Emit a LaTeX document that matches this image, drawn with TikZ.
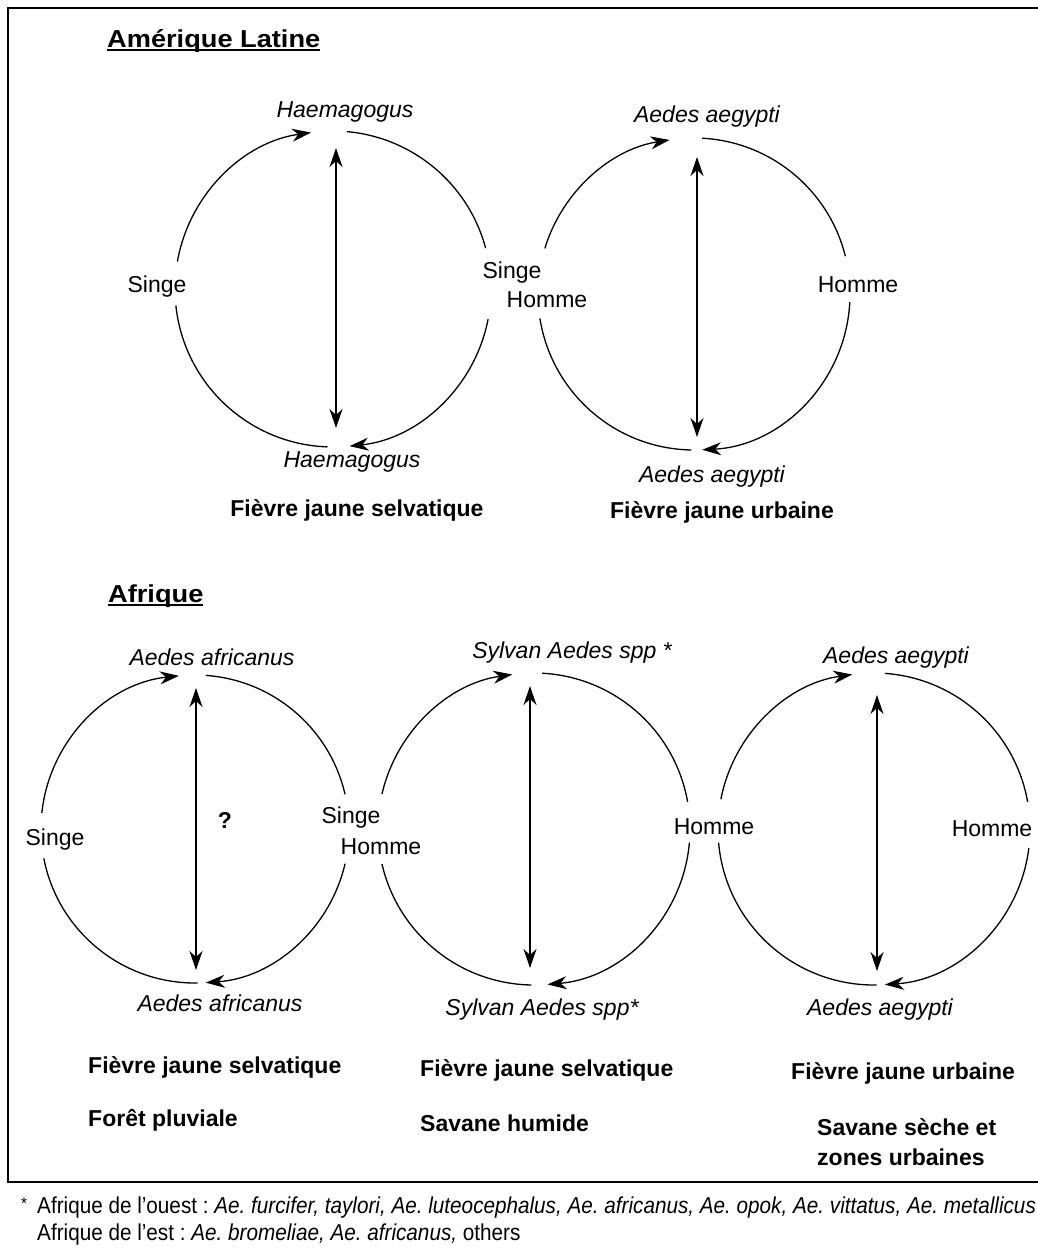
\documentclass[tikz,border=0pt]{standalone}
\usepackage{fontspec}
\setmainfont{Liberation Sans}
\newfontfamily\narrowfont[FakeStretch=0.9]{Liberation Sans}
\newfontfamily\headfont[FakeStretch=1.11]{Liberation Sans}
\newcommand{\uhead}[1]{\leavevmode\setbox0=\hbox{#1}\rlap{\copy0}\rule[-3.6pt]{\wd0}{1.6pt}}
\usetikzlibrary{positioning,arrows.meta}
\tikzstyle{ring}=[line width=1.3pt]
\tikzstyle{ringarrow}=[line width=1.3pt, -{Stealth[length=19pt,width=13pt,inset=6pt]}]
\tikzstyle{vline}=[line width=1.3pt, {Stealth[length=19pt,width=13pt,inset=6pt]}-{Stealth[length=19pt,width=13pt,inset=6pt]}]
\tikzstyle{host}=[inner sep=0pt, font=\fontsize{23}{27}\selectfont]
\tikzstyle{mosq}=[inner sep=0pt, font=\fontsize{23}{27}\selectfont\itshape]
\tikzstyle{fever}=[inner sep=0pt, font=\fontsize{23}{27}\selectfont\bfseries]
\tikzstyle{region}=[inner sep=0pt, anchor=base west, font=\fontsize{24.5}{29}\selectfont\headfont\bfseries]
\tikzstyle{note}=[inner sep=0pt, anchor=base west, font=\fontsize{23}{27}\selectfont\narrowfont\frenchspacing]
\tikzstyle{frame}=[line width=1.6pt]

\begin{document}
\begin{tikzpicture}[x=1pt, y=1pt, node distance=0mm]
\useasboundingbox (0,0) rectangle (1038,-1251);
\draw[frame] (8,-8) rectangle (1048,-1182);

% AMERIQUE LATINE
	\node (amlat) [region] at (107,-47) {\uhead{Amérique Latine}};
	\coordinate (cA) at (333,-289);
	\coordinate (cB) at (694,-294);

	\node (haemTop) [mosq] at (345,-112) {Haemagogus};
	\node (haemBot) [mosq] at (352,-462) {Haemagogus};
	\node (singeA) [host] at (157,-287) {Singe};
	\node (singeAB) [host] at (512,-273) {Singe};
	\node (hommeAB) [host] at (547,-300) {Homme};
	\node (aegTopB) [mosq] at (707,-117) {Aedes aegypti};
	\node (aegBotB) [mosq] at (712,-477) {Aedes aegypti};
	\node (hommeB) [host] at (858,-285) {Homme};
	\node (fevA) [fever] at (357,-510) {Fièvre jaune selvatique};
	\node (fevB) [fever] at (722,-512) {Fièvre jaune urbaine};

	\coordinate (vA1) at (336,-148);
	\coordinate (vA2) at (336,-428);
	\coordinate (vB1) at (697,-157);
	\coordinate (vB2) at (697,-437);

   \draw[ringarrow] ([shift={(170:158)}]cA) arc (170:98:158);
   \draw[ring] ([shift={(85:158)}]cA) arc (85:15:158);
   \draw[ringarrow] ([shift={(-11:158)}]cA) arc (-11:-84:158);
   \draw[ring] ([shift={(-92:158)}]cA) arc (-92:-174:158);
   \draw[vline] (vA1) to (vA2);

   \draw[ringarrow] ([shift={(163:156)}]cB) arc (163:99:156);
   \draw[ring] ([shift={(87:156)}]cB) arc (87:14:156);
   \draw[ringarrow] ([shift={(-3:156)}]cB) arc (-3:-87:156);
   \draw[ring] ([shift={(-91:156)}]cB) arc (-91:-171:156);
   \draw[vline] (vB1) to (vB2);

% AFRIQUE
	\node (afr) [region] at (108,-602) {\uhead{Afrique}};
	\coordinate (cC) at (195,-829);
	\coordinate (cD) at (534,-829);
	\coordinate (cE) at (874,-829);

	\node (africTop) [mosq] at (212,-657) {Aedes africanus};
	\node (africBot) [mosq] at (220,-1003) {Aedes africanus};
	\node (singeC) [host] at (55,-840) {Singe};
	\node (quest) [fever] at (225,-820) {?};
	\node (singeCD) [host] at (351,-818) {Singe};
	\node (hommeCD) [host] at (381,-847) {Homme};
	\node (sylTop) [mosq] at (572,-653) {Sylvan Aedes spp *};
	\node (sylBot) [mosq] at (542,-1010) {Sylvan Aedes spp*};
	\node (hommeDE) [host] at (714,-827) {Homme};
	\node (aegTopE) [mosq] at (896,-658) {Aedes aegypti};
	\node (aegBotE) [mosq] at (880,-1010) {Aedes aegypti};
	\node (hommeE) [host] at (992,-829) {Homme};

	\node (fevC) [fever, anchor=west] at (88,-1067) {Fièvre jaune selvatique};
	\node (foretC) [fever, below=53pt of fevC.west, anchor=west] {Forêt pluviale};
	\node (fevD) [fever, anchor=west] at (420,-1070) {Fièvre jaune selvatique};
	\node (savD) [fever, below=53pt of fevD.west, anchor=west] {Savane humide};
	\node (fevE) [fever, anchor=west] at (791,-1073) {Fièvre jaune urbaine};
	\node (savE) [fever, align=left, font=\fontsize{23}{30}\selectfont\bfseries, below=69pt of fevE.west, anchor=west, xshift=26pt] {Savane sèche et\\zones urbaines};

	\coordinate (vC1) at (196,-688);
	\coordinate (vC2) at (196,-970);
	\coordinate (vD1) at (530,-686);
	\coordinate (vD2) at (530,-968);
	\coordinate (vE1) at (877,-695);
	\coordinate (vE2) at (877,-971);

   \draw[ringarrow] ([shift={(174:154)}]cC) arc (174:96:154);
   \draw[ring] ([shift={(86:154)}]cC) arc (86:13:154);
   \draw[ringarrow] ([shift={(-13:154)}]cC) arc (-13:-86:154);
   \draw[ring] ([shift={(-89:154)}]cC) arc (-89:-169:154);
   \draw[vline] (vC1) to (vC2);

   \draw[ringarrow] ([shift={(167:156)}]cD) arc (167:98:156);
   \draw[ring] ([shift={(87:156)}]cD) arc (87:10:156);
   \draw[ringarrow] ([shift={(-5:156)}]cD) arc (-5:-85:156);
   \draw[ring] ([shift={(-91:156)}]cD) arc (-91:-167:156);
   \draw[vline] (vD1) to (vD2);

   \draw[ringarrow] ([shift={(169:156)}]cE) arc (169:98:156);
   \draw[ring] ([shift={(86:156)}]cE) arc (86:10:156);
   \draw[ringarrow] ([shift={(-7:156)}]cE) arc (-7:-86:156);
   \draw[ring] ([shift={(-89:156)}]cE) arc (-89:-175:156);
   \draw[vline] (vE1) to (vE2);

%footnote
	\node (star) [note, font=\fontsize{17}{20}\selectfont\narrowfont] at (21,-1209) {*};
	\node (footW) [note] at (37,-1213) {Afrique de l’ouest : \textit{Ae. furcifer, taylori, Ae. luteocephalus, Ae. africanus, Ae. opok, Ae. vittatus, Ae. metallicus}};
	\node (footE) [note] at (37,-1240) {Afrique de l’est : \textit{Ae. bromeliae, Ae. africanus,} others};

\end{tikzpicture}
\end{document}
